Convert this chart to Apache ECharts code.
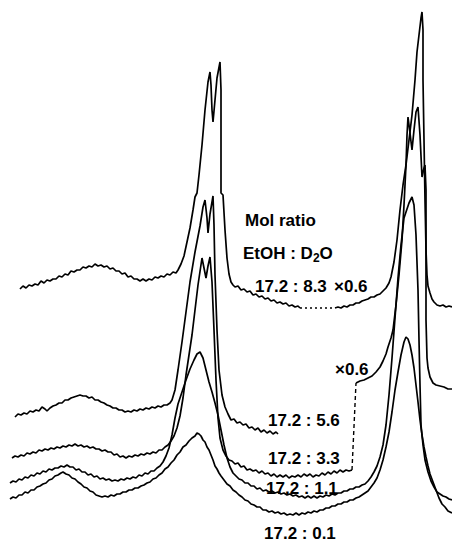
<!DOCTYPE html>
<html>
<head>
<meta charset="utf-8">
<script src="https://cdn.jsdelivr.net/npm/echarts@6/dist/echarts.min.js"></script>
<style>
html,body{margin:0;padding:0;background:#fff;}
#chart{width:452px;height:542px;}
</style>
</head>
<body>
<div id="chart"></div>
<script>
// Spectra: [chemical-shift position, pen height] in plot units
const spec83 = [[20,289],[23,286],[26,288],[29,285],[32,286],[35,284],[38,285],[41,281],[44,283],[47,280],[50,281],[53,279],[56,279],[59,276],[62,277],[65,274],[68,275],[71,271],[74,272],[77,270],[80,270],[83,267],[86,268],[89,266],[92,267],[95,264],[98,266],[101,265],[104,267],[107,266],[110,269],[113,268],[116,271],[119,271],[122,274],[125,273],[128,277],[131,276],[134,279],[137,279],[140,281],[143,279],[146,281],[149,279],[152,280],[155,277],[158,278],[161,276],[164,277],[167,274],[170,275],[173,272],[176,273],[178,270],[181,264],[184,256],[187,242],[190,228],[193,210],[195,197],[197,193],[199,175],[202,145],[205,110],[208,82],[210,72],[211,85],[212,110],[213,122],[215,100],[217,78],[220,62],[221,90],[221,150],[221,193],[223,195],[225,230],[227,258],[229,274],[231,282],[233,285],[235,287],[238,286],[241,290],[244,289],[247,292],[250,291],[253,295],[256,294],[259,297],[262,296],[265,299],[268,298],[271,301],[274,300],[277,303],[280,302],[283,304],[286,303],[289,306],[292,305],[295,307],[298,306],[300,308]];
const spec83Gap = [[300,308],[335,308]];
const spec83Right = [[335,308],[338,307],[341,308],[344,306],[347,307],[350,305],[353,305],[356,303],[359,303],[362,301],[365,300],[368,299],[371,297],[374,297],[377,295],[380,294],[383,291],[386,288],[389,283],[391,277],[394,262],[397,240],[400,210],[403,185],[406,165],[409,140],[412,115],[415,80],[417,52],[419,35],[421,18],[422,12],[423,30],[423,80],[424,140],[425,200],[426,250],[427,275],[428,286],[430,293],[432,299],[434,302],[437,305],[440,306],[443,305],[446,307],[449,306],[452,307]];

const spec56 = [[15,417],[18,414],[21,415],[24,413],[27,414],[30,411],[33,412],[36,410],[39,411],[42,407],[45,409],[47,411],[50,408],[53,406],[56,405],[59,403],[62,403],[65,400],[68,400],[71,398],[74,397],[77,396],[80,395],[83,396],[86,396],[89,398],[92,397],[95,400],[98,400],[101,402],[104,403],[107,405],[110,406],[113,408],[116,408],[119,410],[122,410],[125,412],[128,411],[131,412],[134,410],[137,411],[140,409],[143,410],[146,408],[149,409],[152,407],[155,408],[158,406],[161,407],[164,405],[167,405],[170,403],[172,400],[175,390],[178,370],[182,342],[186,312],[190,282],[195,252],[200,226],[203,207],[205,200],[207,218],[208,233],[210,214],[213,196],[214,225],[215,275],[217,330],[219,370],[222,395],[225,407],[228,414],[231,420],[234,419],[237,423],[240,422],[243,425],[246,424],[249,428],[252,427],[255,430],[258,428],[261,432],[264,430],[267,433],[270,431],[273,434],[276,432],[278,434]];

const spec33 = [[12,458],[15,456],[18,457],[21,455],[24,456],[27,453],[30,454],[33,452],[36,453],[39,450],[42,451],[45,449],[48,450],[51,448],[54,449],[57,447],[60,448],[63,446],[66,447],[69,445],[72,446],[75,444],[78,446],[81,445],[84,447],[87,446],[90,448],[93,447],[96,449],[99,449],[102,451],[105,450],[108,452],[111,452],[114,455],[117,454],[120,457],[123,456],[126,458],[129,456],[132,457],[135,455],[138,456],[141,454],[144,455],[147,453],[150,454],[153,452],[156,453],[159,450],[162,450],[165,447],[168,445],[171,441],[174,436],[177,428],[180,416],[183,398],[186,375],[189,355],[192,335],[195,310],[198,285],[202,258],[204,268],[206,278],[208,266],[210,257],[212,282],[214,330],[216,380],[218,418],[220,438],[223,450],[226,456],[229,460],[232,461],[235,464],[238,463],[241,467],[244,466],[247,470],[250,469],[253,471],[256,470],[259,473],[262,471],[265,474],[268,473],[271,476],[274,474],[277,477],[280,475],[283,477],[286,475],[289,478],[292,476],[295,477],[298,475],[301,477],[304,474],[307,476],[310,474],[313,477],[316,475],[319,476],[322,473],[325,475],[328,472],[331,474],[334,471],[337,473],[340,470],[343,472],[346,470],[349,471],[352,470]];
const spec33Jump = [[352,470],[356,383]];
const spec33Right = [[356,383],[360,381],[364,380],[368,378],[372,376],[376,372],[380,367],[383,361],[386,354],[388,347],[391,338],[393,330],[396,305],[399,275],[402,240],[404,205],[406,165],[407,135],[408,117],[410,133],[412,150],[414,130],[416,112],[418,107],[420,135],[422,177],[424,168],[425,165],[426,190],[426,250],[426,320],[427,358],[428,368],[430,377],[433,383],[436,385],[440,386],[444,387],[448,389],[452,389]];

const spec11 = [[10,483],[13,481],[16,482],[19,479],[22,480],[25,477],[28,478],[31,475],[34,476],[37,473],[40,474],[43,471],[46,472],[49,469],[52,470],[55,468],[58,468],[61,466],[64,467],[67,465],[70,467],[73,467],[76,470],[79,469],[82,472],[85,472],[88,475],[91,474],[94,477],[97,476],[100,479],[103,478],[106,480],[109,479],[112,481],[115,480],[118,481],[121,479],[124,480],[127,478],[130,479],[133,477],[136,478],[139,475],[142,476],[145,473],[148,474],[151,471],[154,471],[157,468],[160,466],[163,462],[166,456],[169,448],[172,435],[175,418],[178,404],[182,392],[186,380],[190,369],[194,360],[197,354],[200,352],[203,358],[206,370],[209,382],[212,392],[215,403],[218,415],[221,430],[224,445],[227,458],[230,467],[233,473],[236,476],[239,479],[242,480],[245,483],[248,483],[251,486],[254,486],[257,489],[260,488],[263,491],[266,490],[269,492],[272,491],[275,493],[278,492],[281,494],[284,493],[287,495],[290,494],[293,496],[296,495],[299,497],[302,496],[305,498],[308,496],[311,498],[314,496],[317,498],[320,496],[323,497],[326,495],[329,496],[332,494],[335,495],[338,493],[341,493],[344,491],[347,491],[350,489],[353,489],[356,487],[359,487],[362,485],[365,484],[368,481],[371,477],[374,472],[377,466],[380,457],[383,445],[386,425],[389,395],[392,358],[395,318],[398,278],[401,245],[404,218],[406,212],[409,203],[412,197],[414,205],[416,235],[418,290],[419,340],[420,385],[421,425],[423,445],[425,460],[428,472],[431,481],[434,487],[437,492],[440,494],[443,496],[446,497],[449,499],[452,500]];

const spec01 = [[10,499],[13,497],[16,498],[19,495],[22,495],[25,492],[28,493],[31,490],[34,490],[37,487],[40,486],[43,484],[46,483],[49,480],[52,479],[55,476],[58,475],[61,473],[63,472],[66,474],[69,475],[72,478],[75,479],[78,482],[81,484],[84,487],[87,488],[90,491],[93,492],[96,495],[99,496],[102,497],[105,496],[108,497],[111,495],[114,496],[117,494],[120,494],[123,492],[126,492],[129,490],[132,490],[135,488],[138,488],[141,486],[144,485],[147,483],[150,482],[153,479],[156,478],[159,475],[162,473],[165,469],[168,467],[171,463],[174,460],[177,455],[180,452],[183,447],[186,445],[189,441],[192,438],[195,436],[197,433],[199,434],[201,436],[203,440],[205,442],[207,447],[209,450],[211,455],[213,460],[215,466],[217,469],[219,473],[221,476],[224,480],[227,484],[230,486],[233,490],[236,492],[239,495],[242,497],[245,500],[248,501],[251,504],[254,505],[257,507],[260,507],[263,510],[266,510],[269,512],[272,511],[275,513],[278,512],[281,514],[284,513],[287,515],[290,514],[293,515],[296,513],[299,515],[302,513],[305,514],[308,512],[311,513],[314,511],[317,512],[320,510],[323,510],[326,508],[329,508],[332,506],[335,506],[338,504],[341,504],[344,502],[347,502],[350,500],[353,500],[356,498],[359,497],[362,495],[365,493],[368,491],[371,487],[374,483],[377,478],[380,470],[383,460],[386,447],[389,432],[392,412],[395,390],[398,372],[401,355],[404,342],[406,337],[408,339],[410,345],[412,355],[414,368],[416,385],[418,402],[420,420],[422,435],[424,447],[426,457],[428,466],[430,474],[433,482],[436,490],[439,498],[442,504],[445,507],[448,511],[452,513]];

// Annotation texts
const ratioLabels = ['17.2 : 8.3', '17.2 : 5.6', '17.2 : 3.3', '17.2 : 1.1', '17.2 : 0.1'];
const headerTexts = ['Mol ratio', 'EtOH : D{sub|2}O'];
const scaleText = '×0.6';

const chart = echarts.init(document.getElementById('chart'), null, {renderer: 'svg'});

function solid(d) {
  return {type: 'line', data: d, showSymbol: false, smooth: false, silent: true,
    lineStyle: {color: '#000', width: 1.7}, animation: false};
}
function dotted(d, dash) {
  return {type: 'line', data: d, showSymbol: false, silent: true,
    lineStyle: {color: '#000', width: 1.4, type: dash}, animation: false};
}

const FONT = '"Liberation Sans", Arial, sans-serif';
function txt(str, x, y) {
  return {type: 'text', left: x, top: y, silent: true,
    style: {text: str, fill: '#000', font: 'bold 17px ' + FONT,
      rich: {sub: {fontSize: 12, fontWeight: 'bold', fontFamily: FONT, padding: [8, 0, 0, 0]}}}};
}

chart.setOption({
  backgroundColor: '#fff',
  animation: false,
  grid: {left: 0, right: 0, top: 0, bottom: 0},
  xAxis: {type: 'value', min: 0, max: 452, show: false},
  yAxis: {type: 'value', min: 0, max: 542, inverse: true, show: false},
  series: [
    solid(spec83), dotted(spec83Gap, [2, 3]), solid(spec83Right),
    solid(spec56),
    solid(spec33), dotted(spec33Jump, [4, 3]), solid(spec33Right),
    solid(spec11),
    solid(spec01)
  ],
  graphic: [
    txt(headerTexts[0], 245, 212),
    txt(headerTexts[1], 243, 245),
    txt(ratioLabels[0], 255, 278),
    txt(scaleText, 334, 278),
    txt(ratioLabels[1], 268, 412),
    txt(scaleText, 335, 361),
    txt(ratioLabels[2], 268, 450),
    txt(ratioLabels[3], 266, 480),
    txt(ratioLabels[4], 264, 525)
  ]
});
</script>
</body>
</html>
